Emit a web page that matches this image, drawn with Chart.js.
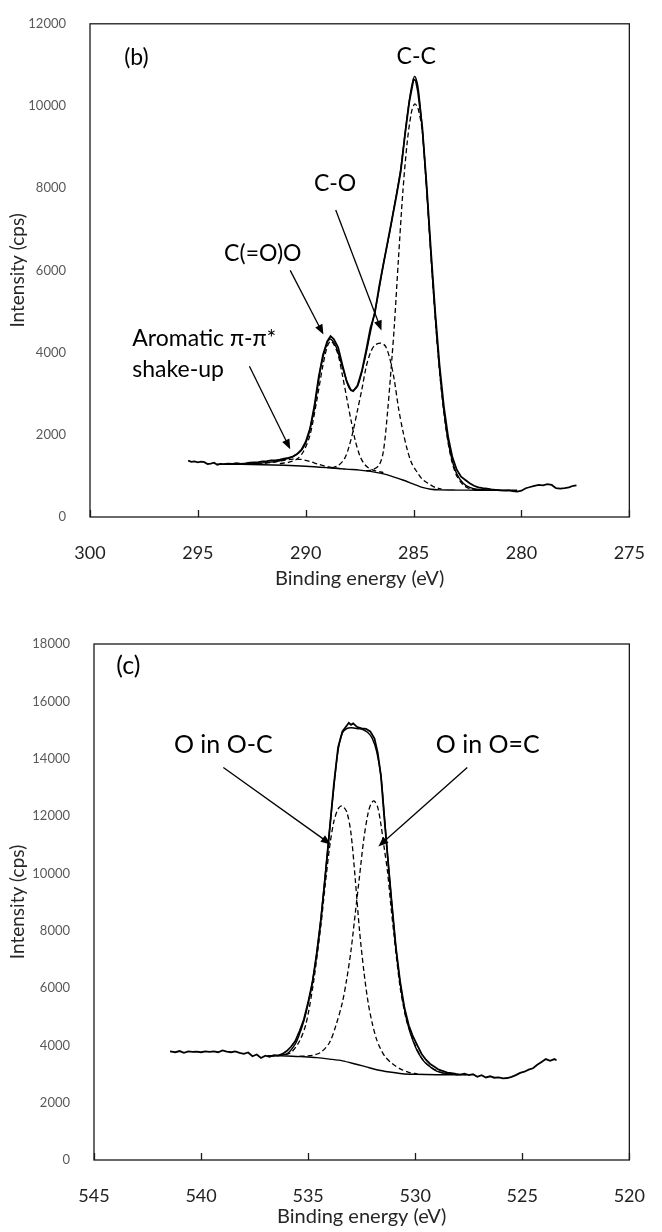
<!DOCTYPE html>
<html>
<head>
<meta charset="utf-8">
<script src="https://cdn.jsdelivr.net/npm/chart.js@4.4.0/dist/chart.umd.min.js"></script>
<style>
  body { margin: 0; background: #fff; }
  #wrapB { position: absolute; left: 0; top: 0; width: 662px; height: 600px; }
  #wrapC { position: absolute; left: 0; top: 600px; width: 662px; height: 632px; }
</style>
</head>
<body>
<div id="wrapB"><canvas id="chartB" width="662" height="600"></canvas></div>
<div id="wrapC"><canvas id="chartC" width="662" height="632"></canvas></div>
<script>
const FONT = "Lato, 'Open Sans', sans-serif";

// ---------- (b) C 1s ----------
let bRawE = [295.45,295.3,295.15,295.0,294.85,294.7,294.55,294.4,294.25,294.1,
  293.95,293.8,293.6,293.4,293.2,293.0,292.8,292.6,292.4,292.2,
  292.0,291.8,291.6,291.4,291.2,291.0,290.8,290.6,290.4,290.2,
  290.0,289.8,289.6,289.4,289.2,289.0,288.85,288.7,288.5,288.3,
  288.1,287.9,287.8,287.6,287.4,287.2,287.0,286.8,286.6,286.4,
  286.2,286.0,285.8,285.6,285.4,285.2,285.0,284.9,284.8,284.6,
  284.4,284.2,284.0,283.8,283.6,283.4,283.2,283.0,282.8,282.6,
  282.4,282.2,282.0,281.8,281.6,281.4,281.2,281.0,280.8,280.6,
  280.4,280.2,280.0,279.8,279.6,279.4,279.2,279.0,278.8,278.6,
  278.4,278.2,278.0,277.8,277.6,277.45];
let bRawI = [1370,1340,1355,1330,1345,1335,1290,1300,1320,1270,
  1290,1285,1300,1290,1310,1295,1305,1320,1330,1335,
  1350,1360,1375,1380,1395,1420,1440,1470,1530,1640,
  1830,2150,2700,3400,3950,4280,4400,4330,4130,3700,
  3300,3080,3060,3200,3550,4050,4600,4950,5600,6150,
  6700,7250,7800,8400,9300,10100,10650,10620,10350,9500,
  8100,6500,5000,3700,2700,1950,1450,1150,980,900,
  820,760,720,700,690,670,660,650,640,650,
  630,620,640,700,730,760,780,770,800,780,
  700,690,700,720,760,770];

let bFitE = [293.6,292.5,291.5,291.0,290.6,290.2,289.9,289.6,289.3,289.0,
  288.85,288.6,288.3,288.0,287.85,287.6,287.3,287.0,286.7,286.4,
  286.1,285.9,285.6,285.3,285.1,284.95,284.8,284.6,284.4,284.2,
  284.0,283.8,283.6,283.4,283.2,283.0,282.7,282.4,282.0,281.5,281.0];
let bFitI = [1285,1295,1340,1400,1470,1620,1950,2650,3650,4250,
  4330,4150,3650,3150,3080,3180,3750,4500,5250,6150,
  6950,7550,8450,9750,10450,10720,10480,9450,8000,6400,
  4900,3600,2600,1850,1350,1050,820,720,670,655,650];

let bBgE = [294.1,293.0,292.0,291.0,290.0,289.0,288.0,287.5,287.0,286.5,
  286.0,285.5,285.0,284.6,284.2,283.8,283.0,282.0,281.0,280.2];
let bBgI = [1282,1280,1272,1258,1235,1200,1160,1140,1110,1060,
  990,900,800,720,675,660,655,652,650,650];

let bPiE = [293.0,292.2,291.6,291.0,290.6,290.2,289.8,289.4,289.0,288.6,288.2];
let bPiI = [1285,1295,1325,1380,1410,1400,1350,1280,1225,1190,1165];

let bCooE = [291.2,290.8,290.4,290.1,289.8,289.5,289.2,289.0,288.85,288.7,
  288.5,288.3,288.1,287.9,287.7,287.5,287.3,287.1,286.8,286.4];
let bCooI = [1300,1330,1410,1600,2000,2800,3700,4150,4280,4200,
  3950,3450,2900,2350,1850,1500,1300,1200,1130,1080];

let bCoE = [288.8,288.5,288.2,288.0,287.8,287.6,287.4,287.2,287.0,286.8,
  286.5,286.3,286.1,285.9,285.7,285.5,285.3,285.1,284.85,284.6,
  284.3,284.0,283.7];
let bCoI = [1195,1250,1420,1700,2100,2600,3100,3650,4000,4180,
  4230,4150,3850,3350,2650,2100,1650,1320,1100,920,
  810,720,680];

let bCcE = [287.2,286.9,286.6,286.4,286.2,286.0,285.9,285.7,285.5,285.3,
  285.1,284.95,284.8,284.6,284.4,284.2,284.0,283.8,283.6,283.4,
  283.2,283.0,282.7,282.4,282.0,281.5];
let bCcI = [1125,1150,1260,1600,2600,3900,4600,6300,7900,9100,
  9850,10050,9950,9400,8000,6400,4850,3550,2550,1800,
  1300,1000,780,690,660,652];

// ---------- (c) O 1s ----------
let cRawE = [541.45,541.2,541.0,540.8,540.6,540.4,540.2,540.0,539.8,539.6,
  539.4,539.2,539.0,538.8,538.6,538.4,538.2,538.0,537.8,537.6,
  537.4,537.2,537.0,536.8,536.6,536.4,536.2,536.0,535.8,535.6,
  535.4,535.2,535.0,534.8,534.6,534.4,534.2,534.0,533.8,533.6,
  533.4,533.2,533.1,533.0,532.9,532.7,532.5,532.3,532.1,531.9,
  531.75,531.6,531.45,531.3,531.1,530.9,530.7,530.5,530.3,530.1,
  529.9,529.7,529.5,529.3,529.1,528.9,528.7,528.5,528.3,528.1,
  527.9,527.7,527.5,527.3,527.1,526.9,526.7,526.5,526.3,526.1,
  525.9,525.7,525.5,525.3,525.1,524.9,524.7,524.5,524.3,524.1,
  523.9,523.7,523.5,523.4];
let cRawI = [3790,3760,3800,3740,3790,3770,3780,3760,3790,3770,
  3790,3760,3820,3780,3760,3790,3740,3700,3750,3620,
  3680,3560,3640,3600,3660,3640,3700,3800,3950,4150,
  4500,4900,5500,6200,7200,8400,9900,11500,13100,14400,
  14950,15150,15250,15180,15230,15100,15060,15040,14950,14700,
  14200,13400,12000,10700,9000,7400,6200,5300,4700,4300,
  4000,3700,3500,3350,3250,3150,3100,3050,3030,3000,
  2980,3010,2960,2990,2900,2960,2880,2920,2870,2880,
  2850,2860,2900,2960,3040,3080,3150,3200,3320,3420,
  3520,3460,3520,3480];

let cFitE = [536.9,536.0,535.6,535.4,535.2,535.0,534.8,534.6,534.4,534.2,
  534.0,533.8,533.6,533.4,533.2,533.0,532.8,532.6,532.4,532.2,
  532.0,531.8,531.6,531.45,531.3,531.1,530.9,530.7,530.5,530.3,
  530.1,529.9,529.6,529.3,529.0,528.6,528.2];
let cFitI = [3630,3700,4050,4400,4850,5450,6200,7200,8450,9950,
  11500,13000,14300,14900,15050,15080,15060,15040,15000,14900,
  14700,14250,13400,12100,10700,9000,7400,6150,5250,4600,
  4150,3800,3450,3250,3100,3020,2990];

let cBgE = [536.9,536.0,535.2,534.6,534.0,533.4,532.8,532.3,531.8,531.2,
  530.6,530.0,529.0,528.0,527.6];
let cBgI = [3630,3630,3600,3570,3520,3460,3350,3250,3150,3070,
  3010,2990,2975,2970,2965];

let cOcE = [536.8,536.2,535.8,535.4,535.1,534.8,534.6,534.4,534.2,534.0,
  533.8,533.6,533.42,533.2,533.0,532.8,532.6,532.4,532.2,532.0,
  531.8,531.6,531.4,531.1,530.7,530.3,529.9];
let cOcI = [3630,3660,3750,4150,4750,5950,7000,8200,9600,10900,
  11800,12250,12350,12150,11400,9800,8000,6600,5500,4750,
  4200,3850,3600,3380,3180,3060,3000];

let cOdcE = [535.4,534.8,534.4,534.0,533.7,533.4,533.2,533.0,532.8,532.6,
  532.4,532.2,532.05,531.91,531.75,531.6,531.45,531.3,531.14,531.0,
  530.85,530.7,530.56,530.4,530.2,530.0,529.8,529.6,529.2,528.8,
  528.4,528.0];
let cOdcI = [3620,3650,3760,4100,4700,5500,6300,7300,8600,9900,
  11200,12100,12450,12520,12300,11700,10900,10100,8900,7900,
  6900,6000,5400,4850,4400,4000,3680,3450,3200,3060,
  3000,2970];

// labels and arrows, in data units (eV, cps)
let bTexts = [
  {text: '(b)', e: 297.85, i: 11170},
  {text: 'C-C', e: 284.88, i: 11210},
  {text: 'C-O', e: 288.64, i: 8110},
  {text: 'C(=O)O', e: 291.99, i: 6410},
  {text: 'Aromatic \u03c0-\u03c0*', e: 298.04, i: 4340, align: 'left'},
  {text: 'shake-up', e: 298.04, i: 3580, align: 'left'}
];
let bArrows = [
  [288.61, 7470, 286.49, 4540],
  [290.72, 6000, 289.18, 4440],
  [292.61, 3670, 290.72, 1650]
];
let cTexts = [
  {text: '(c)', e: 543.4, i: 17230},
  {text: 'O in O-C', e: 538.96, i: 14480},
  {text: 'O in O=C', e: 526.61, i: 14480}
];
let cArrows = [
  [538.96, 13690, 533.94, 11010],
  [527.57, 13690, 531.72, 10940]
];

function pts(xs, ys) {
  return xs.map((x, i) => ({x: x, y: ys[i]}));
}

function line(xs, ys, extra) {
  return Object.assign({
    data: pts(xs, ys), showLine: true, pointRadius: 0,
    borderColor: '#000', borderWidth: 1.4, fill: false, tension: 0
  }, extra || {});
}

function notesPlugin(texts, arrows, fontSize) {
  return {
    id: 'notes',
    afterDraw(chart) {
      const ctx = chart.ctx, a = chart.chartArea;
      const x = chart.scales.x, y = chart.scales.y;
      ctx.save();
      // plot box
      ctx.strokeStyle = '#1a1a1a';
      ctx.lineWidth = 1.3;
      ctx.strokeRect(a.left, a.top, a.right - a.left, a.bottom - a.top);
      // inner tick marks on the x axis
      x.ticks.forEach(t => {
        const px = Math.round(x.getPixelForValue(t.value)) + 0.5;
        ctx.beginPath();
        ctx.moveTo(px, a.bottom);
        ctx.lineTo(px, a.bottom - 7);
        ctx.stroke();
      });
      // labels
      ctx.fillStyle = '#000';
      ctx.font = fontSize + 'px ' + FONT;
      ctx.textBaseline = 'middle';
      texts.forEach(t => {
        ctx.textAlign = t.align || 'center';
        ctx.fillText(t.text, x.getPixelForValue(t.e), y.getPixelForValue(t.i));
      });
      // arrows
      ctx.strokeStyle = '#000';
      ctx.lineWidth = 1.3;
      arrows.forEach(r => {
        const x0 = x.getPixelForValue(r[0]), y0 = y.getPixelForValue(r[1]);
        const x1 = x.getPixelForValue(r[2]), y1 = y.getPixelForValue(r[3]);
        const ang = Math.atan2(y1 - y0, x1 - x0);
        const c = Math.cos(ang), s = Math.sin(ang);
        ctx.beginPath();
        ctx.moveTo(x0, y0);
        ctx.lineTo(x1 - 6 * c, y1 - 6 * s);
        ctx.stroke();
        ctx.beginPath();
        ctx.moveTo(x1, y1);
        ctx.lineTo(x1 - 10 * c + 4 * s, y1 - 10 * s - 4 * c);
        ctx.lineTo(x1 - 10 * c - 4 * s, y1 - 10 * s + 4 * c);
        ctx.closePath();
        ctx.fill();
      });
      ctx.restore();
    }
  };
}

function makeChart(id, datasets, xr, ymax, area, texts, arrows) {
  return new Chart(document.getElementById(id), {
    type: 'scatter',
    data: {datasets: datasets},
    options: {
      responsive: false,
      animation: false,
      layout: {padding: {top: area.top, right: area.right, left: 0, bottom: 0}},
      plugins: {legend: {display: false}, tooltip: {enabled: false}},
      scales: {
        x: {
          type: 'linear', reverse: true, min: xr[0], max: xr[1],
          ticks: {stepSize: 5, padding: 17, color: '#222',
            font: {family: FONT, size: 18}, callback: v => String(v)},
          grid: {display: false},
          border: {display: false},
          title: {display: true, text: 'Binding energy (eV)', color: '#262626',
            font: {family: FONT, size: 20}, padding: {top: 0, bottom: area.tb}},
          afterFit: s => { s.height = area.xh; }
        },
        y: {
          type: 'linear', min: 0, max: ymax,
          ticks: {stepSize: 2000, padding: 16, color: '#595959',
            font: {family: FONT, size: 13}, callback: v => String(v)},
          grid: {display: false},
          border: {display: false},
          title: {display: true, text: 'Intensity (cps)', color: '#262626',
            font: {family: FONT, size: 19}, padding: {top: 6, bottom: 0}},
          afterFit: s => { s.width = area.yw; }
        }
      }
    },
    plugins: [notesPlugin(texts, arrows, area.fs)]
  });
}

const dash = {borderDash: [5, 3], borderWidth: 1.3, tension: 0.3};
const smooth = {borderWidth: 1.4, tension: 0.3};

makeChart('chartB', [
  line(bRawE, bRawI, {borderWidth: 1.8}),
  line(bFitE, bFitI, smooth),
  line(bBgE, bBgI, smooth),
  line(bPiE, bPiI, dash),
  line(bCooE, bCooI, dash),
  line(bCoE, bCoI, dash),
  line(bCcE, bCcI, dash)
], [275, 300], 12000, {top: 17, right: 23, xh: 83, yw: 90, tb: 9, fs: 23}, bTexts, bArrows);

makeChart('chartC', [
  line(cRawE, cRawI, {borderWidth: 1.8}),
  line(cFitE, cFitI, smooth),
  line(cBgE, cBgI, smooth),
  line(cOcE, cOcI, dash),
  line(cOdcE, cOdcI, dash)
], [520, 545], 18000, {top: 44, right: 23, xh: 72, yw: 94, tb: 3, fs: 25}, cTexts, cArrows);
</script>
</body>
</html>
